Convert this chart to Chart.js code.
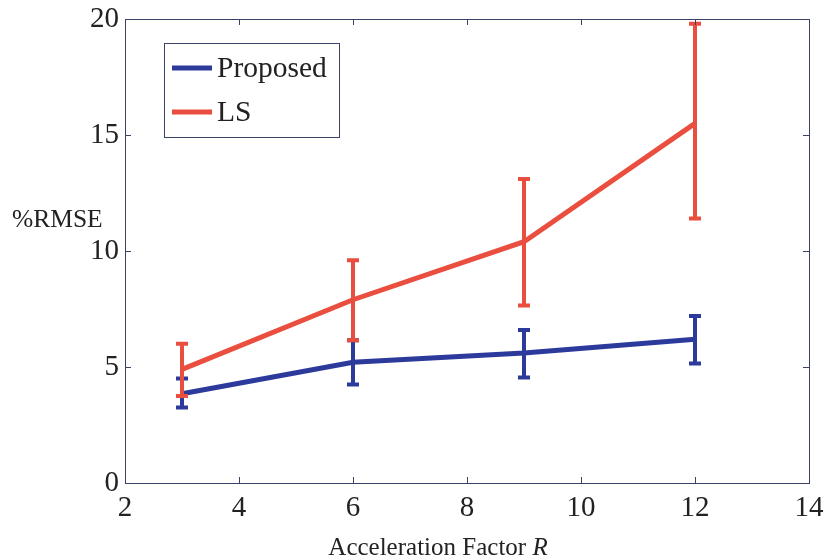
<!DOCTYPE html>
<html>
<head>
<meta charset="utf-8">
<script src="https://cdn.jsdelivr.net/npm/chart.js@4.4.1/dist/chart.umd.min.js"></script>
<style>
  html, body { margin: 0; padding: 0; background: #fff; }
  #wrap { width: 829px; height: 560px; position: relative; }
</style>
</head>
<body>
<div id="wrap"><canvas id="chart"></canvas></div>
<script>
// ── Data ─────────────────────────────────────────────────────────────────────

const accelFactor   = [3, 6, 9, 12];
const proposedMean  = [3.85, 5.2, 5.6, 6.2];
const proposedLow   = [3.25, 4.25, 4.55, 5.15];
const proposedHigh  = [4.5, 6.15, 6.6, 7.2];
const lsMean        = [4.9, 7.9, 10.4, 15.5];
const lsLow         = [3.75, 6.15, 7.65, 11.4];
const lsHigh        = [6.0, 9.6, 13.1, 19.8];

const xTicks = [2, 4, 6, 8, 10, 12, 14];
const yTicks = [0, 5, 10, 15, 20];

const BLUE  = '#2c3a9c';
const RED   = '#ea4e3e';
const FRAME = '#3b4266';
const FONT  = "'Liberation Serif', 'DejaVu Serif', serif";

// ── Plugins ──────────────────────────────────────────────────────────────────

const errorBars = {
  id: 'errorBars',
  afterDatasetDraw(chart, args) {
    const ds = chart.data.datasets[args.index];
    const ctx = chart.ctx, xs = chart.scales.x, ys = chart.scales.y;
    ctx.save();
    ctx.strokeStyle = ds.borderColor;
    ctx.lineWidth = 4;
    ctx.lineCap = 'butt';
    ds.data.forEach((p, i) => {
      const x = xs.getPixelForValue(p.x);
      const lo = ys.getPixelForValue(ds.low[i]);
      const hi = ys.getPixelForValue(ds.high[i]);
      ctx.beginPath();
      ctx.moveTo(x, lo); ctx.lineTo(x, hi);
      ctx.moveTo(x - 6, lo); ctx.lineTo(x + 6, lo);
      ctx.moveTo(x - 6, hi); ctx.lineTo(x + 6, hi);
      ctx.stroke();
    });
    ctx.restore();
  }
};

const frame = {
  id: 'frame',
  afterDraw(chart) {
    const { ctx, chartArea: a } = chart;
    const xs = chart.scales.x, ys = chart.scales.y;
    ctx.save();
    ctx.strokeStyle = FRAME;
    ctx.lineWidth = 1;
    ctx.strokeRect(a.left + 0.5, a.top + 0.5, a.right - a.left, a.bottom - a.top);
    ctx.beginPath();
    xTicks.forEach(v => {
      const x = Math.round(xs.getPixelForValue(v)) + 0.5;
      ctx.moveTo(x, a.bottom); ctx.lineTo(x, a.bottom - 6);
      ctx.moveTo(x, a.top);    ctx.lineTo(x, a.top + 6);
    });
    yTicks.forEach(v => {
      const y = Math.round(ys.getPixelForValue(v)) + 0.5;
      ctx.moveTo(a.left, y);  ctx.lineTo(a.left + 6, y);
      ctx.moveTo(a.right, y); ctx.lineTo(a.right - 6, y);
    });
    ctx.stroke();

    // axis titles
    ctx.fillStyle = '#222';
    ctx.textBaseline = 'middle';
    ctx.font = '25px ' + FONT;
    const t1 = 'Acceleration Factor ';
    const w1 = ctx.measureText(t1).width;
    ctx.font = 'italic 25px ' + FONT;
    const w2 = ctx.measureText('R').width;
    const sx = 438 - (w1 + w2) / 2;
    ctx.font = '25px ' + FONT;
    ctx.textAlign = 'left';
    ctx.fillText(t1, sx, 548);
    ctx.font = 'italic 25px ' + FONT;
    ctx.fillText('R', sx + w1, 548);

    ctx.font = '25.5px ' + FONT;
    ctx.fillText('%RMSE', 12, 220);

    // legend box
    const lx = 164, ly = 43, lw = 175, lh = 94;
    ctx.fillStyle = '#fff';
    ctx.fillRect(lx, ly, lw, lh);
    ctx.strokeStyle = FRAME;
    ctx.strokeRect(lx + 0.5, ly + 0.5, lw, lh);
    ctx.font = '29.5px ' + FONT;
    ctx.fillStyle = '#222';
    chart.data.datasets.forEach((ds, i) => {
      const y = ly + 25 + i * 44;
      ctx.strokeStyle = ds.borderColor;
      ctx.lineWidth = 5;
      ctx.beginPath();
      ctx.moveTo(lx + 8, y); ctx.lineTo(lx + 48, y);
      ctx.stroke();
      ctx.fillText(ds.label, lx + 53, y + 1);
    });
    ctx.restore();
  }
};

// ── Chart ────────────────────────────────────────────────────────────────────

const toPts = ys => accelFactor.map((x, i) => ({ x, y: ys[i] }));

new Chart(document.getElementById('chart'), {
  type: 'line',
  data: {
    datasets: [
      { label: 'Proposed', data: toPts(proposedMean), low: proposedLow, high: proposedHigh,
        borderColor: BLUE, borderWidth: 5, pointRadius: 0, order: 1 },
      { label: 'LS', data: toPts(lsMean), low: lsLow, high: lsHigh,
        borderColor: RED, borderWidth: 5, pointRadius: 0, order: 0 },
    ],
  },
  plugins: [errorBars, frame],
  options: {
    responsive: true,
    maintainAspectRatio: false,
    animation: false,
    layout: { padding: { top: 19, right: 20, left: 0, bottom: 0 } },
    plugins: { legend: { display: false }, tooltip: { enabled: false } },
    scales: {
      x: {
        type: 'linear', min: 2, max: 14,
        afterFit: s => { s.height = 77; s.paddingLeft = 0; s.paddingRight = 0; },
        afterBuildTicks: s => { s.ticks = xTicks.map(v => ({ value: v })); },
        grid: { display: false, drawTicks: false },
        border: { display: false },
        ticks: { color: '#222', padding: 8, font: { family: FONT, size: 29 } },
      },
      y: {
        min: 0, max: 20,
        afterFit: s => { s.width = 125; s.paddingTop = 0; s.paddingBottom = 0; },
        afterBuildTicks: s => { s.ticks = yTicks.map(v => ({ value: v })); },
        grid: { display: false, drawTicks: false },
        border: { display: false },
        ticks: { color: '#222', padding: 6, font: { family: FONT, size: 29 } },
      },
    },
  },
});
</script>
</body>
</html>
